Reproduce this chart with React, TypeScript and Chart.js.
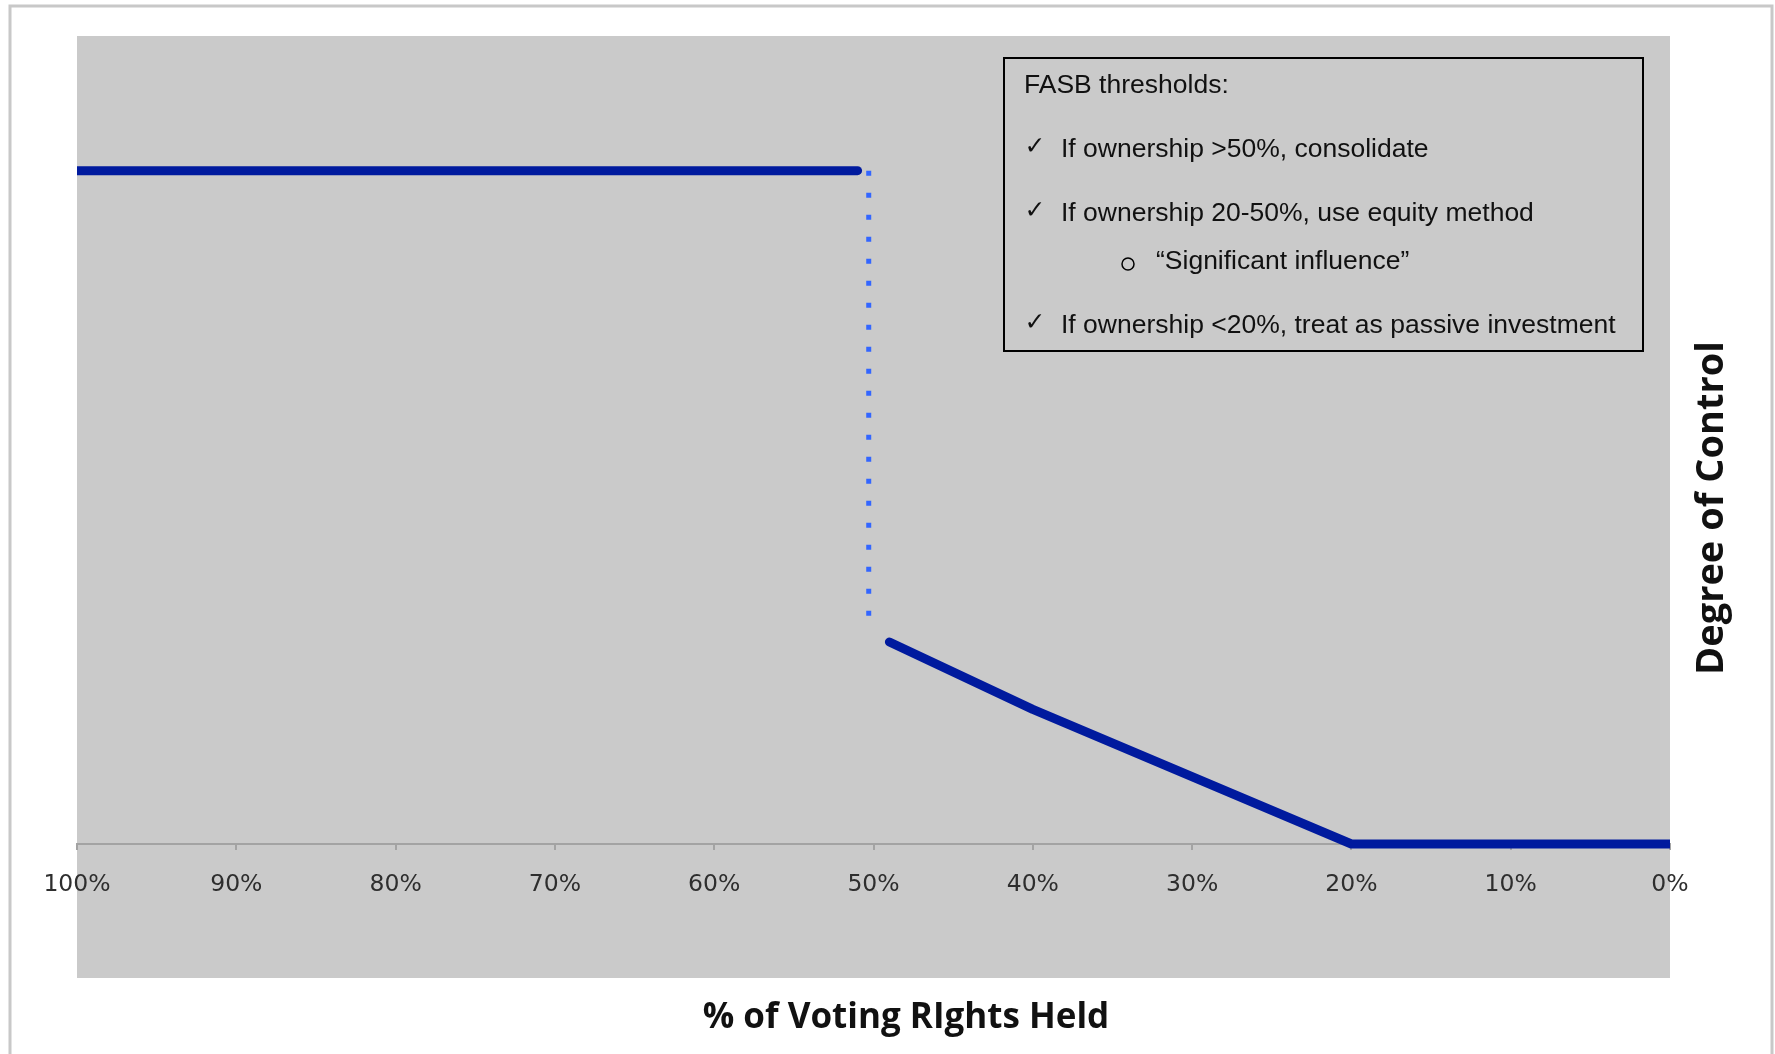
import React, { useEffect, useRef } from "react";
import { Chart, registerables } from "chart.js";

Chart.register(...registerables);

// ---- data ----
const upperX = [100, 51];
const upperY = [5, 5];
const dottedX = [50.3, 50.3];
const dottedY = [5, 1.6];
const lowerX = [49, 40, 20, 0];
const lowerY = [1.5, 1, 0, 0];
const xTickValues = [100, 90, 80, 70, 60, 50, 40, 30, 20, 10, 0];

const xTitle = "% of Voting RIghts Held";
const yTitle = "Degree of Control";
const legendTitle = "FASB thresholds:";
const legendItems = [
  "If ownership >50%, consolidate",
  "If ownership 20-50%, use equity method",
  "\u201CSignificant influence\u201D",
  "If ownership <20%, treat as passive investment",
];

const W = 1775;
const H = 1054;

const toPts = (xs: number[], ys: number[]) => xs.map((x, i) => ({ x, y: ys[i] }));

const decorPlugin = {
  id: "decor",
  beforeDraw(chart: any) {
    const { ctx, chartArea } = chart;
    ctx.save();
    ctx.fillStyle = "#ffffff";
    ctx.fillRect(0, 0, W, H);
    // outer frame
    ctx.strokeStyle = "#c8c8c8";
    ctx.lineWidth = 3;
    ctx.strokeRect(10, 6, 1762, 1100);
    // gray plot background (includes tick label band)
    ctx.fillStyle = "#cacaca";
    ctx.fillRect(chartArea.left, chartArea.top, chartArea.right - chartArea.left, 978 - chartArea.top);
    ctx.restore();
  },
  afterDraw(chart: any) {
    const { ctx } = chart;
    ctx.save();
    // axis titles
    ctx.fillStyle = "#111111";
    ctx.font = "bold 35px 'Open Sans'";
    ctx.textAlign = "center";
    ctx.textBaseline = "middle";
    ctx.fillText(xTitle, 906, 1018);
    ctx.save();
    ctx.translate(1712, 508);
    ctx.rotate(-Math.PI / 2);
    ctx.font = "bold 38px 'Open Sans'";
    ctx.fillText(yTitle, 0, 0);
    ctx.restore();

    // legend box
    ctx.strokeStyle = "#000000";
    ctx.lineWidth = 2;
    ctx.strokeRect(1004, 58, 639, 293);
    ctx.textAlign = "left";
    ctx.fillStyle = "#111111";
    const txtFont = "26.5px 'Liberation Sans'";
    ctx.font = txtFont;
    ctx.fillText(legendTitle, 1024, 86);
    const rows = [150, 214, 262, 326];
    legendItems.forEach((t, i) => {
      const y = rows[i];
      if (i === 2) {
        ctx.beginPath();
        ctx.lineWidth = 1.5;
        ctx.arc(1128, y + 2, 6, 0, Math.PI * 2);
        ctx.stroke();
        ctx.font = txtFont;
        ctx.fillText(t, 1156, y);
      } else {
        ctx.font = "25px 'DejaVu Sans'";
        ctx.textAlign = "center";
        ctx.fillText("\u2713", 1035, y - 3);
        ctx.textAlign = "left";
        ctx.font = txtFont;
        ctx.fillText(t, 1061, y);
      }
    });
    ctx.restore();
  },
};

export default function App() {
  const ref = useRef<HTMLCanvasElement | null>(null);
  useEffect(() => {
    if (!ref.current) return;
    const chart = new Chart(ref.current, {
      type: "scatter",
      data: {
        datasets: [
          {
            data: toPts(upperX, upperY),
            showLine: true,
            borderColor: "#001a9e",
            borderWidth: 9,
            borderCapStyle: "round",
            pointRadius: 0,
            clip: { left: 0, right: 0, top: false, bottom: false } as any,
          },
          {
            data: toPts(dottedX, dottedY),
            showLine: true,
            borderColor: "#3366ff",
            borderWidth: 5,
            borderDash: [5, 17],
            borderCapStyle: "butt",
            pointRadius: 0,
            clip: false as any,
          },
          {
            data: toPts(lowerX, lowerY),
            showLine: true,
            borderColor: "#001a9e",
            borderWidth: 9,
            borderCapStyle: "round",
            borderJoinStyle: "round",
            pointRadius: 0,
            clip: { left: 0, right: 0, top: false, bottom: false } as any,
          },
        ],
      },
      options: {
        responsive: false,
        animation: false,
        layout: { padding: { left: 77, right: 105, top: 36, bottom: 76 } },
        plugins: { legend: { display: false }, tooltip: { enabled: false } },
        scales: {
          x: {
            type: "linear",
            min: 0,
            max: 100,
            reverse: true,
            afterBuildTicks: (scale: any) => {
              scale.ticks = xTickValues.map((v) => ({ value: v }));
            },
            afterFit: (scale: any) => {
              scale.height = 134;
            },
            ticks: {
              autoSkip: false,
              maxRotation: 0,
              padding: 21,
              color: "#2e2e2e",
              font: { family: "'DejaVu Sans'", size: 23.5 },
              callback: (v: any) => `${v}%`,
            },
            grid: {
              drawOnChartArea: false,
              drawTicks: true,
              tickLength: 6,
              color: "#a3a3a3",
              lineWidth: 2,
            },
            border: { display: true, color: "#a3a3a3", width: 2 },
          },
          y: {
            type: "linear",
            min: 0,
            max: 6,
            display: false,
          },
        },
      },
      plugins: [decorPlugin],
    } as any);
    return () => chart.destroy();
  }, []);
  return (
    <div style={{ position: "fixed", left: 0, top: 0, width: W, height: H, background: "#fff" }}>
      <canvas ref={ref} width={W} height={H} style={{ display: "block" }} />
    </div>
  );
}
